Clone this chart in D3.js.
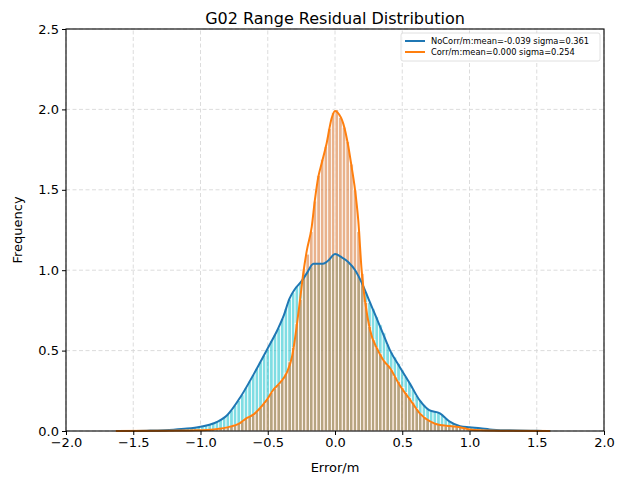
<!DOCTYPE html>
<html>
<head>
<meta charset="utf-8">
<script src="https://cdn.jsdelivr.net/npm/d3@7"></script>
<style>
  body { margin: 0; background: #fff; }
  text { font-family: "DejaVu Sans", sans-serif; }
</style>
</head>
<body>
<div id="chart"></div>
<script>
// histogram bins (shared by both series)
var binStart = -1.188;
var binWidth = 0.027;

// NoCorr histogram heights (density)
var noCorrBars = [
  0.010, 0.012, 0.013, 0.017, 0.019, 0.022, 0.026, 0.030, 0.035, 0.040,
  0.050, 0.058, 0.072, 0.088, 0.105, 0.13, 0.16, 0.19, 0.225, 0.27,
  0.31, 0.35, 0.39, 0.43, 0.47, 0.51, 0.56, 0.60, 0.64, 0.70,
  0.76, 0.82, 0.86, 0.90, 0.92, 0.95, 0.99, 1.02, 1.04, 1.04,
  1.04, 1.05, 1.07, 1.10, 1.10, 1.09, 1.07, 1.05, 1.03, 1.00,
  0.96, 0.92, 0.86, 0.80, 0.76, 0.71, 0.66, 0.61, 0.54, 0.49,
  0.46, 0.42, 0.38, 0.34, 0.30, 0.26, 0.22, 0.19, 0.165, 0.14,
  0.125, 0.12, 0.115, 0.10, 0.08, 0.06, 0.048, 0.037, 0.030, 0.026,
  0.023, 0.022, 0.020, 0.018, 0.015, 0.012, 0.010, 0.008
];

// Corr histogram heights (density)
var corrBars = [
  0.001, 0.001, 0.002, 0.002, 0.003, 0.004, 0.004, 0.005, 0.007, 0.008,
  0.010, 0.013, 0.016, 0.020, 0.025, 0.030, 0.038, 0.046, 0.058, 0.078,
  0.090, 0.10, 0.12, 0.145, 0.17, 0.20, 0.24, 0.265, 0.29, 0.32,
  0.36, 0.43, 0.52, 0.67, 0.82, 1.01, 1.10, 1.24, 1.43, 1.59,
  1.69, 1.77, 1.88, 1.98, 2.00, 1.95, 1.89, 1.80, 1.66, 1.50,
  1.24, 0.98, 0.80, 0.65, 0.57, 0.52, 0.48, 0.44, 0.41, 0.38,
  0.34, 0.31, 0.27, 0.24, 0.21, 0.18, 0.14, 0.11, 0.09, 0.07,
  0.055, 0.047, 0.040, 0.035, 0.032, 0.031, 0.029, 0.026, 0.023, 0.018,
  0.012, 0.009, 0.007, 0.005, 0.004, 0.003, 0.002, 0.001
];

// KDE curves
var noCorrKdeX = [-1.6, -1.4, -1.2, -1.1, -1.0, -0.9, -0.8, -0.7, -0.6, -0.5,
  -0.43, -0.38, -0.34, -0.3, -0.25, -0.21, -0.16, -0.09, -0.05, 0.0,
  0.05, 0.1, 0.15, 0.2, 0.26, 0.3, 0.35, 0.41, 0.48, 0.56,
  0.63, 0.7, 0.78, 0.85, 0.93, 1.0, 1.08, 1.15, 1.3, 1.5, 1.6];
var noCorrKdeY = [0.0, 0.002, 0.008, 0.015, 0.027, 0.048, 0.10, 0.215, 0.36, 0.515,
  0.625, 0.72, 0.82, 0.88, 0.93, 0.98, 1.04, 1.04, 1.06, 1.10,
  1.08, 1.05, 1.00, 0.92, 0.80, 0.72, 0.62, 0.50, 0.40, 0.29,
  0.19, 0.13, 0.11, 0.06, 0.03, 0.023, 0.017, 0.01, 0.004, 0.001, 0.0];

var corrKdeX = [-1.63, -1.3, -1.03, -0.9, -0.78, -0.71, -0.66, -0.61, -0.56, -0.51,
  -0.46, -0.41, -0.36, -0.32, -0.285, -0.26, -0.236, -0.21, -0.173, -0.149,
  -0.124, -0.099, -0.062, -0.025, 0.0, 0.02, 0.062, 0.099, 0.124, 0.149,
  0.173, 0.198, 0.223, 0.26, 0.32, 0.36, 0.41, 0.48, 0.56, 0.63,
  0.71, 0.78, 0.855, 0.93, 1.0, 1.08, 1.3, 1.6];
var corrKdeY = [0.0, 0.001, 0.004, 0.01, 0.027, 0.048, 0.079, 0.10, 0.14, 0.19,
  0.255, 0.30, 0.36, 0.46, 0.65, 0.815, 0.98, 1.12, 1.27, 1.44,
  1.58, 1.665, 1.79, 1.945, 1.99, 1.98, 1.91, 1.77, 1.64, 1.50,
  1.31, 1.00, 0.81, 0.63, 0.50, 0.44, 0.39, 0.286, 0.193, 0.11,
  0.058, 0.037, 0.031, 0.023, 0.01, 0.004, 0.001, 0.0];

var legendLabels = ["NoCorr/m:mean=-0.039 sigma=0.361", "Corr/m:mean=0.000 sigma=0.254"];
var lineColors = ["#1f77b4", "#ff7f0e"];
var xTicks = [-2.0, -1.5, -1.0, -0.5, 0.0, 0.5, 1.0, 1.5, 2.0];
var yTicks = [0.0, 0.5, 1.0, 1.5, 2.0, 2.5];

var width = 628, height = 488;
var margin = { left: 66, right: 24, top: 29, bottom: 57 };

var svg = d3.select("#chart").append("svg")
  .attr("width", width)
  .attr("height", height);

var x = d3.scaleLinear().domain([-2, 2]).range([margin.left, width - margin.right]);
var y = d3.scaleLinear().domain([0, 2.5]).range([height - margin.bottom, margin.top]);

// grid
svg.append("g").selectAll("line").data(xTicks).enter().append("line")
  .attr("x1", d => x(d)).attr("x2", d => x(d))
  .attr("y1", y(0)).attr("y2", y(2.5))
  .attr("stroke", "#d8d8d8").attr("stroke-width", 0.9)
  .attr("stroke-dasharray", "4,2.5");
svg.append("g").selectAll("line").data(yTicks).enter().append("line")
  .attr("x1", x(-2)).attr("x2", x(2))
  .attr("y1", d => y(d)).attr("y2", d => y(d))
  .attr("stroke", "#d8d8d8").attr("stroke-width", 0.9)
  .attr("stroke-dasharray", "4,2.5");

function drawBars(values, fill, opacity) {
  svg.append("g").selectAll("rect").data(values).enter().append("rect")
    .attr("x", (d, i) => x(binStart + i * binWidth))
    .attr("width", x(binWidth) - x(0))
    .attr("y", d => y(d))
    .attr("height", d => y(0) - y(d))
    .attr("fill", fill)
    .attr("fill-opacity", opacity)
    .attr("stroke", "white")
    .attr("stroke-width", 0.8);
}
drawBars(noCorrBars, "#00bbc7", 0.5);
drawBars(corrBars, "#da7f3f", 0.6);

var line = d3.line()
  .x(d => x(d[0]))
  .y(d => y(d[1]))
  .curve(d3.curveMonotoneX);

svg.append("path")
  .attr("d", line(d3.zip(noCorrKdeX, noCorrKdeY)))
  .attr("fill", "none").attr("stroke", lineColors[0]).attr("stroke-width", 2);
svg.append("path")
  .attr("d", line(d3.zip(corrKdeX, corrKdeY)))
  .attr("fill", "none").attr("stroke", lineColors[1]).attr("stroke-width", 2);

// axes
var xAxis = svg.append("g")
  .attr("transform", "translate(0," + y(0) + ")")
  .call(d3.axisBottom(x).tickValues(xTicks).tickFormat(d3.format(".1f")).tickSize(4).tickPadding(3));
var yAxis = svg.append("g")
  .attr("transform", "translate(" + x(-2) + ",0)")
  .call(d3.axisLeft(y).tickValues(yTicks).tickFormat(d3.format(".1f")).tickSize(4).tickPadding(3));
[xAxis, yAxis].forEach(function (a) {
  a.select(".domain").remove();
  a.selectAll("text").attr("font-size", 13).attr("fill", "#000")
    .style("font-family", "DejaVu Sans");
  a.selectAll("line").attr("stroke", "#000");
});
xAxis.selectAll("text").text(d => d3.format(".1f")(d).replace("-", "\u2212"));

// frame
svg.append("rect")
  .attr("x", x(-2)).attr("y", y(2.5))
  .attr("width", x(2) - x(-2)).attr("height", y(0) - y(2.5))
  .attr("fill", "none").attr("stroke", "#000").attr("stroke-width", 1.1);

// title and labels
svg.append("text")
  .attr("x", (x(-2) + x(2)) / 2).attr("y", 24)
  .attr("text-anchor", "middle").attr("font-size", 16)
  .text("G02 Range Residual Distribution");
svg.append("text")
  .attr("x", (x(-2) + x(2)) / 2).attr("y", 472)
  .attr("text-anchor", "middle").attr("font-size", 13)
  .text("Error/m");
svg.append("text")
  .attr("transform", "translate(22," + ((y(0) + y(2.5)) / 2) + ") rotate(-90)")
  .attr("text-anchor", "middle").attr("font-size", 13)
  .text("Frequency");

// legend
var legend = svg.append("g").attr("transform", "translate(401,33)");
legend.append("rect")
  .attr("width", 199).attr("height", 28).attr("rx", 2)
  .attr("fill", "white").attr("fill-opacity", 0.8)
  .attr("stroke", "#d8d8d8").attr("stroke-width", 0.8);
legendLabels.forEach(function (label, i) {
  legend.append("line")
    .attr("x1", 4).attr("x2", 24)
    .attr("y1", 8 + i * 11).attr("y2", 8 + i * 11)
    .attr("stroke", lineColors[i]).attr("stroke-width", 2);
  legend.append("text")
    .attr("x", 30).attr("y", 8 + i * 11)
    .attr("dominant-baseline", "central")
    .attr("font-size", 8.3)
    .text(label);
});
</script>
</body>
</html>
